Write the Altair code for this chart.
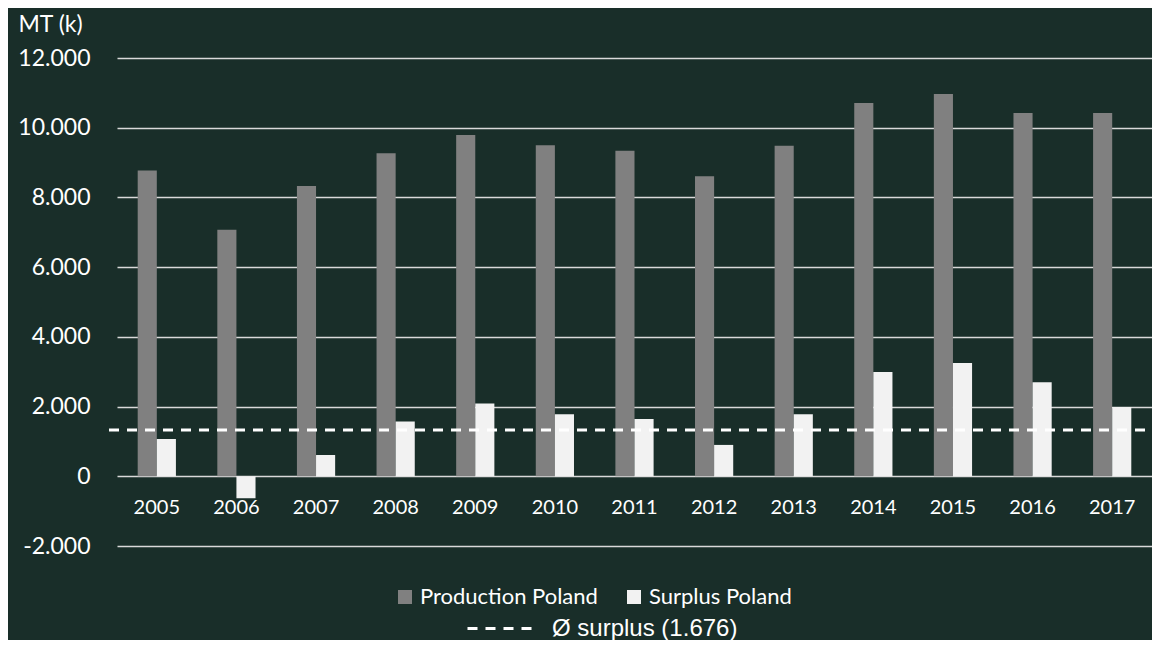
import altair as alt
import pandas as pd

years = ["2005", "2006", "2007", "2008", "2009", "2010", "2011",
         "2012", "2013", "2014", "2015", "2016", "2017"]
production = [8770, 7070, 8330, 9270, 9790, 9500, 9340, 8610, 9480, 10710, 10970, 10420, 10420]
surplus = [1070, -630, 610, 1570, 2090, 1780, 1640, 900, 1780, 2990, 3250, 2700, 1990]
series_names = ["Production Poland", "Surplus Poland"]
series_colors = ["#808080", "#f2f2f2"]
avg_label = "Ø surplus (1.676)"
avg_value = 1330
y_ticks = [-2000, 0, 2000, 4000, 6000, 8000, 10000, 12000]
y_title = "MT (k)"
label_y = -900

rows = []
for yr, p, s in zip(years, production, surplus):
    rows.append({"year": yr, "series": series_names[0], "value": p})
    rows.append({"year": yr, "series": series_names[1], "value": s})
df = pd.DataFrame(rows)
years_df = pd.DataFrame({"year": years, "ly": [label_y] * len(years)})
avg_df = pd.DataFrame({"value": [avg_value], "label": [avg_label]})

BG = "#192e29"
x_enc = alt.X("year:N", sort=years, axis=None,
              scale=alt.Scale(paddingInner=0.52, paddingOuter=0.26))

bars = alt.Chart(df).mark_bar().encode(
    x=x_enc,
    xOffset=alt.XOffset("series:N", sort=series_names,
                        scale=alt.Scale(paddingInner=0, paddingOuter=0)),
    y=alt.Y("value:Q",
            scale=alt.Scale(domain=[-2000, 12000], nice=False, zero=False),
            axis=alt.Axis(values=y_ticks,
                          labelExpr="replace(replace(format(datum.value, ','), ',', '.'), '−', '-')",
                          labelFont="Lato", labelFontSize=23, labelColor="white",
                          labelPadding=27, ticks=False, domain=False,
                          grid=True, gridColor="#d9d9d9", gridWidth=1.5,
                          title=y_title, titleAngle=0, titleAlign="left",
                          titleBaseline="middle", titleX=-99, titleY=-34,
                          titleFont="Lato", titleFontSize=23, titleFontWeight="normal",
                          titleColor="white")),
    color=alt.Color("series:N",
                    scale=alt.Scale(domain=series_names, range=series_colors),
                    legend=alt.Legend(title=None, orient="none", legendX=277, legendY=528,
                                      direction="horizontal", symbolType="square",
                                      symbolSize=196, symbolStrokeWidth=0,
                                      labelFont="Lato", labelFontSize=22,
                                      labelColor="white", columnPadding=25,
                                      labelOffset=4, labelLimit=0)),
)

labels = alt.Chart(years_df).mark_text(
    color="white", font="Lato", fontSize=20, baseline="middle", align="center"
).encode(
    x=alt.X("year:N", sort=years),
    y=alt.Y("ly:Q"),
    text="year:N",
)

avg_rule = alt.Chart(avg_df).mark_rule(color="white", strokeWidth=3).encode(
    y=alt.Y("value:Q"),
    x=alt.value(-8),
    x2=alt.value(1030),
    strokeDash=alt.StrokeDash("label:N",
                              scale=alt.Scale(domain=[avg_label], range=[[10, 8]]),
                              legend=alt.Legend(title=None, orient="none",
                                                legendX=349, legendY=536,
                                                symbolType="stroke", symbolSize=4356,
                                                symbolStrokeWidth=3,
                                                symbolStrokeColor="white",
                                                labelFont="Liberation Sans",
                                                labelFontSize=24, labelColor="white",
                                                labelOffset=17, labelLimit=0)),
)

chart = alt.layer(bars, labels, avg_rule).resolve_scale(
    color="independent"
).properties(
    width=1035,
    height=488,
    autosize=alt.AutoSizeParams(type="none"),
    padding={"left": 109, "top": 50, "right": 0, "bottom": 94},
    background=BG,
).configure_view(strokeWidth=0)

chart.save("out.html", embed_options={"renderer": "svg", "actions": False})
